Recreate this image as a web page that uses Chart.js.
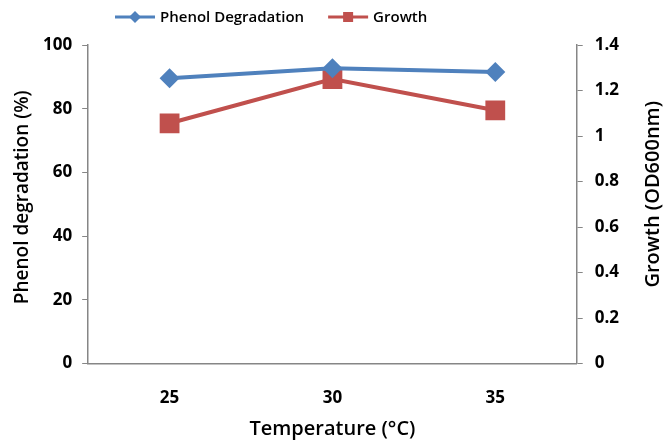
<!DOCTYPE html>
<html>
<head>
<meta charset="utf-8">
<script src="https://cdn.jsdelivr.net/npm/chart.js@4"></script>
<style>
  html, body { margin: 0; padding: 0; background: #fff; }
  #wrap { width: 664px; height: 445px; }
</style>
</head>
<body>
<div id="wrap"><canvas id="temp_chart"></canvas></div>
<script>
const temperatures = ['25', '30', '35'];
const phenolDegradation = [89.6, 92.7, 91.5];
const growth = [1.056, 1.25, 1.113];

const blue = '#4F81BD';
const red = '#C0504D';
const axisGray = '#868686';
const font = "'Open Sans', 'Liberation Sans', sans-serif";
const leftTitle = 'Phenol degradation (%)';
const rightTitle = 'Growth (OD600nm)';

function verticalText(g, text, x, y) {
    g.save();
    g.translate(x, y);
    g.rotate(-Math.PI / 2);
    g.textAlign = 'center';
    g.textBaseline = 'middle';
    g.fillText(text, 0, 0);
    g.restore();
}

// legend (line + marker, Excel style) and both y titles reading bottom to top
const extras = {
    id: 'extras',
    afterDraw(chart) {
        const g = chart.ctx;
        g.save();
        g.font = '600 15px ' + font;
        g.textBaseline = 'middle';
        let x = 115;
        const y = 17;
        chart.data.datasets.forEach(ds => {
            g.strokeStyle = ds.borderColor;
            g.fillStyle = ds.borderColor;
            g.lineWidth = 3;
            g.beginPath(); g.moveTo(x, y); g.lineTo(x + 40, y); g.stroke();
            if (ds.pointStyle === 'rectRot') {
                g.beginPath();
                g.moveTo(x + 20, y - 6); g.lineTo(x + 26, y); g.lineTo(x + 20, y + 6); g.lineTo(x + 14, y);
                g.closePath(); g.fill();
            } else {
                g.fillRect(x + 15, y - 5, 10, 10);
            }
            g.fillStyle = '#000';
            g.textAlign = 'left';
            g.fillText(ds.label, x + 45, y + 1);
            x += 45 + g.measureText(ds.label).width + 24;
        });
        const mid = (chart.chartArea.top + chart.chartArea.bottom) / 2;
        g.font = '600 19px ' + font;
        verticalText(g, leftTitle, 23, mid - 7);
        g.font = '600 20px ' + font;
        verticalText(g, rightTitle, 653, mid - 10);
        g.restore();
    }
};

const ctx = document.getElementById('temp_chart').getContext('2d');

new Chart(ctx, {
    type: 'line',
    data: {
        labels: temperatures,
        datasets: [{
            label: 'Phenol Degradation',
            data: phenolDegradation,
            yAxisID: 'y',
            borderColor: blue,
            backgroundColor: blue,
            borderWidth: 4,
            pointStyle: 'rectRot',
            pointRadius: 10,
            pointHoverRadius: 10,
            pointBorderWidth: 0
        }, {
            label: 'Growth',
            data: growth,
            yAxisID: 'y1',
            borderColor: red,
            backgroundColor: red,
            borderWidth: 4,
            pointStyle: 'rect',
            pointRadius: 14,
            pointHoverRadius: 14,
            pointBorderWidth: 0
        }]
    },
    options: {
        responsive: true,
        maintainAspectRatio: false,
        animation: false,
        layout: { padding: { top: 45, left: 33, right: 33, bottom: 4 } },
        plugins: {
            legend: { display: false },
            tooltip: { enabled: false }
        },
        scales: {
            x: {
                offset: true,
                grid: { display: false, drawTicks: false },
                border: { display: true, color: axisGray, width: 1.5 },
                ticks: { color: '#000', padding: 24, font: { family: font, size: 17, weight: 'bold' } },
                title: {
                    display: true,
                    text: 'Temperature (°C)',
                    color: '#000',
                    padding: { top: -15, bottom: 0 },
                    font: { family: font, size: 20, weight: '600' }
                }
            },
            y: {
                position: 'left',
                min: 0,
                max: 100,
                ticks: { stepSize: 20, color: '#000', padding: 10, font: { family: font, size: 17, weight: 'bold' } },
                grid: { drawOnChartArea: false, tickLength: 6, color: axisGray },
                border: { display: true, color: axisGray, width: 1.5 }
            },
            y1: {
                position: 'right',
                min: 0,
                max: 1.4,
                ticks: {
                    stepSize: 0.2,
                    color: '#000',
                    padding: 12,
                    font: { family: font, size: 17, weight: 'bold' },
                    callback: v => String(+v.toFixed(1))
                },
                grid: { drawOnChartArea: false, tickLength: 6, color: axisGray },
                border: { display: true, color: axisGray, width: 1.5 }
            }
        }
    },
    plugins: [extras]
});
</script>
</body>
</html>
